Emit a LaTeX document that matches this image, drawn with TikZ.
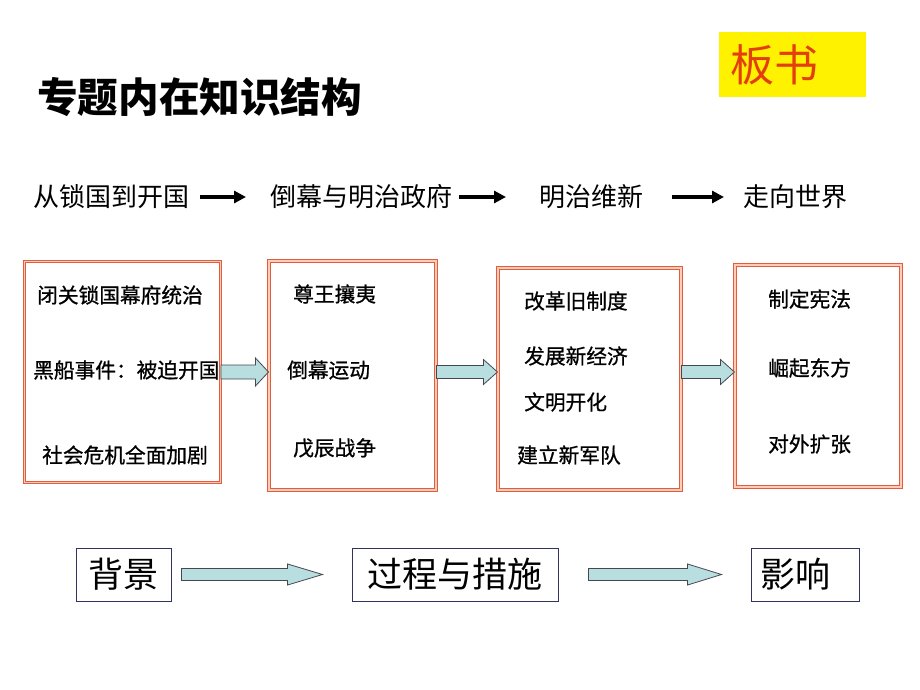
\documentclass[tikz,border=0pt]{standalone}
\usepackage{fontspec}
\setmainfont{Noto Sans CJK SC}
\newfontfamily\itemfont{Noto Sans CJK SC}[FakeBold=0.8]
\usetikzlibrary{calc,arrows.meta}
\definecolor{boxred}{RGB}{228,92,62}
\definecolor{boxpeach}{RGB}{250,205,185}
\definecolor{navy}{RGB}{50,50,95}
\definecolor{arrowfill}{RGB}{185,222,224}
\definecolor{arrowedge}{RGB}{70,72,80}
\definecolor{tagred}{RGB}{228,62,12}
\newcommand\fatarr[5]{%
  \path[fatarrow] let \p1=(#1), \p2=(#2) in
    (\x1,\y1+#3pt) -- (\x2-#5pt,\y1+#3pt) -- (\x2-#5pt,\y1+#4pt) -- (\x2,\y1)
    -- (\x2-#5pt,\y1-#4pt) -- (\x2-#5pt,\y1-#3pt) -- (\x1,\y1-#3pt) -- cycle;}
\begin{document}
\begin{tikzpicture}[x=1pt,y=-1pt,
  redbox/.style={draw=boxred, double=boxpeach, double distance=1.4pt, line width=1.1pt, inner sep=0, fill=white},
  item/.style={anchor=west, inner sep=0, font=\itemfont\fontsize{20.7}{24}\selectfont},
  toptext/.style={anchor=west, inner sep=0, font=\fontsize{26}{30}\selectfont},
  toparrow/.style={line width=3.5pt, -{Triangle[length=12pt,width=12pt]}},
  navybox/.style={draw=navy, line width=0.9pt, minimum height=53, inner sep=0, font=\fontsize{35}{40}\selectfont},
  fatarrow/.style={draw=arrowedge, fill=arrowfill, line width=0.8pt, line join=miter}
]
\useasboundingbox (0,0) rectangle (920,690);
\fill[white] (0,0) rectangle (920,690);

% title and tag
\node[anchor=west, inner sep=0, font=\fontsize{40.6}{46}\selectfont\bfseries] (title) at (37,97) {专题内在知识结构};
\node[fill=yellow, minimum width=147, minimum height=65, text width=125, align=left, inner sep=0,
      text=tagred, font=\fontsize{44}{50}\selectfont] (tag) at (792.5,64.5) {板书};

% top row
\node[toptext] (t1) at (33,197) {从锁国到开国};
\node[toptext] (t2) at (270,197) {倒幕与明治政府};
\node[toptext] (t3) at (539,197) {明治维新};
\node[toptext] (t4) at (743,197) {走向世界};
\draw[toparrow] ($(t1.east)+(11,0)$) -- ($(t2.west)+(-24,0)$);
\draw[toparrow] ($(t2.east)+(7,0)$) -- ($(t3.west)+(-33,0)$);
\draw[toparrow] ($(t3.east)+(29,0)$) -- ($(t4.west)+(-19,0)$);

% red boxes
\node[redbox, minimum width=196, minimum height=221] (b1) at (122.5,372) {};
\node[redbox, minimum width=167, minimum height=229] (b2) at (352.5,375.5) {};
\node[redbox, minimum width=183, minimum height=222] (b3) at (589.5,379) {};
\node[redbox, minimum width=166, minimum height=222] (b4) at (818,376) {};

% box contents
\node[item] (i11) at (37,295) {闭关锁国幕府统治};
\node[item] (i12) at (33,370) {黑船事件：被迫开国};
\node[item] (i13) at (42,455) {社会危机全面加剧};
\node[item] (i21) at (293,294) {尊王攘夷};
\node[item] (i22) at (287,370) {倒幕运动};
\node[item] (i23) at (293,448) {戊辰战争};
\node[item] (i31) at (524,301) {改革旧制度};
\node[item] (i32) at (524,356) {发展新经济};
\node[item] (i33) at (524,402) {文明开化};
\node[item] (i34) at (517,455) {建立新军队};
\node[item] (i41) at (768,299) {制定宪法};
\node[item] (i42) at (768,368) {崛起东方};
\node[item] (i43) at (768,444) {对外扩张};

% arrows between red boxes
\fatarr{b1.east}{b2.west |- b1.east}{7}{14}{13}
\fatarr{b2.east |- b1.east}{b3.west |- b1.east}{6.5}{12.5}{14}
\fatarr{b3.east |- b1.east}{b4.west |- b1.east}{6.5}{12.5}{14}

% bottom row
\node[navybox, minimum width=95, text width=95, align=center] (k1) at (123.5,574.5) {背景};
\node[navybox, minimum width=206, text width=206, align=center] (k2) at (455,574.5) {过程与措施};
\node[navybox, minimum width=108, text width=90, align=left] (k3) at (805,574.5) {影响};
\fatarr{$(k1.east)+(10,0)$}{$(k2.west)+(-29,0)$}{6}{10.5}{35}
\fatarr{$(k2.east)+(30,0)$}{$(k3.west)+(-29,0)$}{6}{10.5}{34}
\end{tikzpicture}
\end{document}
